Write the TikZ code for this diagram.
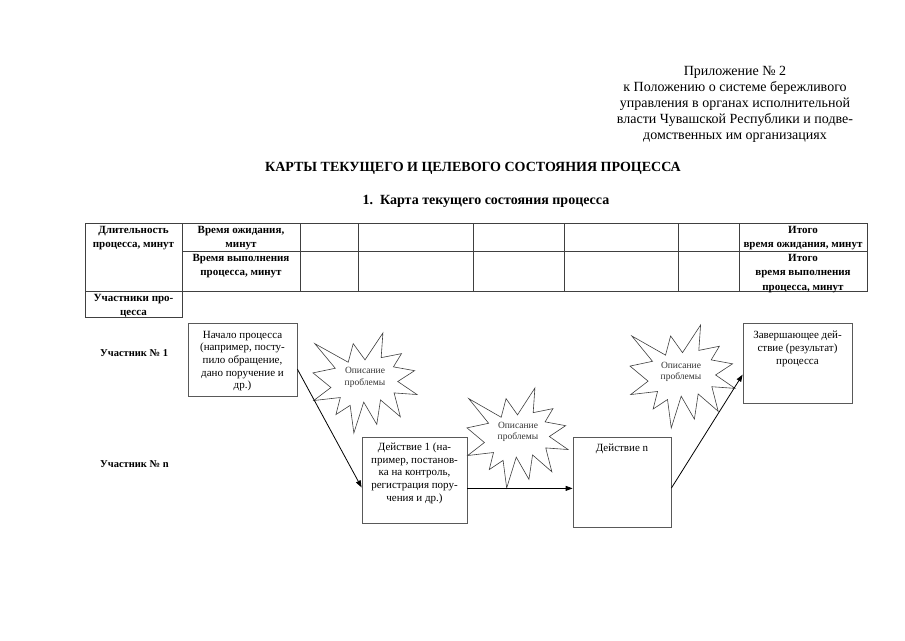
\documentclass[tikz,border=0pt]{standalone}
\usepackage{fontspec}
\setmainfont{Liberation Serif}
\usetikzlibrary{calc, arrows.meta}
\tikzset{
    tabline/.style={draw=black!75, line width=0.7pt},
    tabhead/.style={font=\bfseries\fontsize{11}{14.5}\selectfont, align=center, anchor=north, inner sep=0pt},
    procbox/.style={draw=black!65, line width=0.8pt, rectangle, inner sep=0pt},
    boxtext/.style={font=\fontsize{11}{12.7}\selectfont, align=center, anchor=north, inner sep=0pt},
    burstline/.style={draw=black!75, line width=0.6pt, fill=white},
    bursttext/.style={font=\fontsize{9.5}{11.5}\selectfont, align=center, text=black!80, inner sep=0pt},
    flow/.style={-{Triangle[length=7pt, width=5pt]}, line width=0.8pt},
    member/.style={font=\bfseries\fontsize{10.5}{13}\selectfont, anchor=west, inner sep=0pt}
}
\newcommand{\drawburst}[3]{%
    \begin{scope}[shift={(#1)}, x=#2pt, y=-#3pt]
        \draw[burstline] (50,26.85) -- (67.23,0) -- (65.53,24.65) -- (85.09,20.63) -- (77.32,33.87)
            -- (97.67,37.67) -- (81.51,48.50) -- (100,61.53) -- (77.95,59.92) -- (84.00,83.77)
            -- (64.91,66.93) -- (61.33,91.38) -- (48.76,69.14) -- (39.28,100) -- (35.72,72.35)
            -- (22.05,81.56) -- (26.24,64.52) -- (0.63,67.53) -- (17.23,54.51) -- (0,39.88)
            -- (21.42,35.26) -- (1.71,10.63) -- (33.85,29.26) -- (38.67,10.63) -- cycle;
    \end{scope}}
\begin{document}
\begin{tikzpicture}[x=1pt, y=-1pt]
            \useasboundingbox (0,0) rectangle (905,640);
            \node[anchor=north, align=center, inner sep=0pt, font=\fontsize{14}{16}\selectfont] (annex) at (735,66)
                {Приложение № 2\\к Положению о системе бережливого\\управления в органах исполнительной\\власти Чувашской Республики и подве-\\домственных им организациях};
            \node[font=\bfseries\fontsize{14}{16}\selectfont] (title) at (473,168.5) {КАРТЫ ТЕКУЩЕГО И ЦЕЛЕВОГО СОСТОЯНИЯ ПРОЦЕССА};
            \node[font=\bfseries\fontsize{14}{16}\selectfont] (subtitle) at (486,201) {1.\enspace Карта текущего состояния процесса};
            \draw[tabline] (85,223) rectangle (867,291);
            \draw[tabline] (85,291) -- (85,317) -- (182,317) -- (182,223);
            \draw[tabline] (182,251) -- (867,251);
            \draw[tabline] (300,223) -- (300,291) (358,223) -- (358,291) (473,223) -- (473,291)
                (564,223) -- (564,291) (678,223) -- (678,291) (739,223) -- (739,291);
            \node[tabhead] (durhead) at (133.5,226) {Длительность\\процесса, минут};
            \node[tabhead] (waithead) at (241,226) {Время ожидания,\\минут};
            \node[tabhead] (workhead) at (241,254) {Время выполнения\\процесса, минут};
            \node[tabhead] (waittotal) at (803,226) {Итого\\время ожидания, минут};
            \node[tabhead] (worktotal) at (803,254) {Итого\\время выполнения\\процесса, минут};
            \node[tabhead] (members) at (133.5,294) {Участники про-\\цесса};
            \node[member] (member1) at (100,353) {Участник № 1};
            \node[member] (membern) at (100,464) {Участник № n};
            \node[procbox, minimum width=109pt, minimum height=73pt] (start) at (242.5,359.5) {};
            \node[procbox, minimum width=105pt, minimum height=86pt] (act1) at (414.5,480) {};
            \node[procbox, minimum width=98pt, minimum height=90pt] (actn) at (622,482) {};
            \node[procbox, minimum width=109pt, minimum height=80pt] (finish) at (797.5,363) {};
            \node[boxtext] (starttext) at ($(start.north)+(0,8)$) {Начало процесса\\(например, посту-\\пило обращение,\\дано поручение и\\др.)};
            \node[boxtext] (act1text) at ($(act1.north)+(0,6)$) {Действие 1 (на-\\пример, постанов-\\ка на контроль,\\регистрация пору-\\чения и др.)};
            \node[boxtext] (actntext) at ($(actn.north)+(0,7)$) {Действие n};
            \node[boxtext] (finishtext) at ($(finish.north)+(0,8.5)$) {Завершающее дей-\\ствие (результат)\\процесса};
            \drawburst{313,333}{1.04}{1.00}
            \drawburst{467,388}{1.01}{1.00}
            \drawburst{630,325}{1.05}{1.03}
            \node[bursttext] (prob1) at (365,377.5) {Описание\\проблемы};
            \node[bursttext] (prob2) at (518,432) {Описание\\проблемы};
            \node[bursttext] (prob3) at (681,372) {Описание\\проблемы};
            \draw[flow] (start.-10) -- (act1.188);
            \draw[flow] (act1.-9) -- (act1.-9 -| actn.west);
            \draw[flow] (actn.-7) -- (finish.192);
\end{tikzpicture}
\end{document}
